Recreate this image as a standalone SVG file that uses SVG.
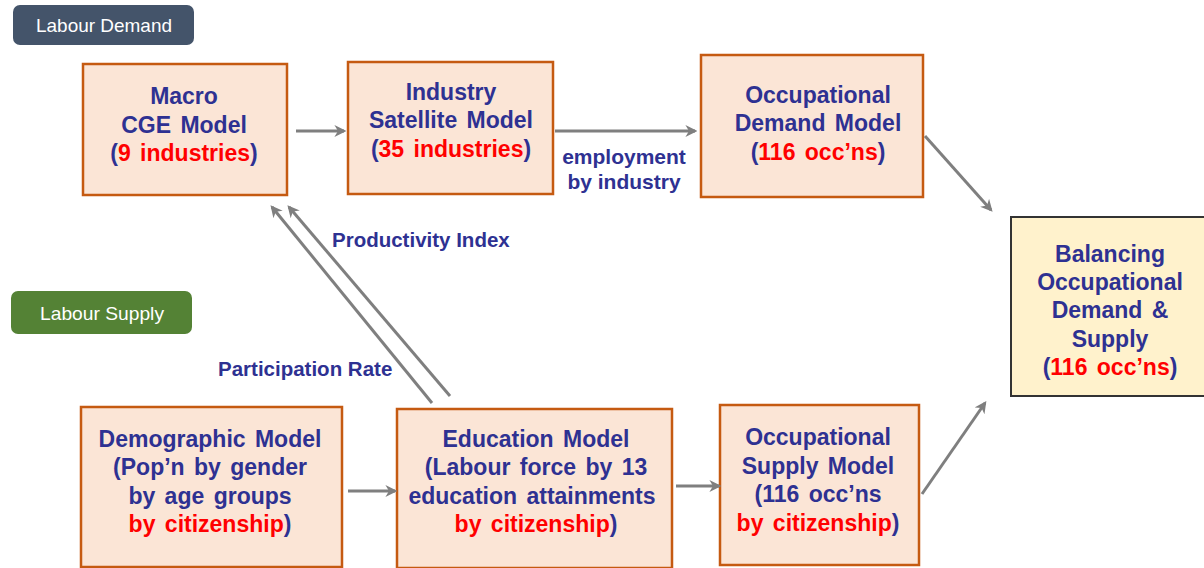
<svg xmlns="http://www.w3.org/2000/svg" width="1204" height="568" viewBox="0 0 1204 568">
<style>
.box{fill:#fbe5d6;stroke:#c55a11;stroke-width:2.5}
.bal{fill:#fff2cc;stroke:#333333;stroke-width:2}
.t{font-family:"Liberation Sans",Arial,sans-serif;font-weight:bold;font-size:23px;word-spacing:3px;fill:#2e3192;text-anchor:middle}
.r{fill:#ff0000}
.lbl{font-family:"Liberation Sans",Arial,sans-serif;font-weight:bold;fill:#2e3192}
.pill{font-family:"Liberation Sans",Arial,sans-serif;font-size:19px;fill:#ffffff;text-anchor:middle}
.c{stroke:#7f7f7f;stroke-width:3;fill:none;marker-end:url(#ah)}
</style>
<defs>
<marker id="ah" viewBox="0 0 10 10" refX="8" refY="5" markerWidth="4" markerHeight="4" orient="auto" markerUnits="strokeWidth">
<path d="M0,0 L10,5 L0,10 L3,5 Z" fill="#7f7f7f"/>
</marker>
</defs>
<g id="labour-demand">
<rect x="13" y="5" width="181" height="40" rx="7" fill="#44546a"/>
<text class="pill" x="104" y="32" textLength="136" lengthAdjust="spacingAndGlyphs">Labour Demand</text>
</g>
<g id="labour-supply">
<rect x="11" y="291" width="181" height="43" rx="7" fill="#548235"/>
<text class="pill" x="102" y="320" textLength="124" lengthAdjust="spacingAndGlyphs">Labour Supply</text>
</g>
<g id="macro">
<rect class="box" x="83" y="64" width="204" height="131"/>
<text class="t" x="184" y="104">Macro</text>
<text class="t" x="184" y="133">CGE Model</text>
<text class="t" x="184" y="161">(<tspan class="r">9 industries</tspan>)</text>
</g>
<g id="industry">
<rect class="box" x="348" y="62" width="205" height="132"/>
<text class="t" x="451" y="100">Industry</text>
<text class="t" x="451" y="128">Satellite Model</text>
<text class="t" x="451" y="157">(<tspan class="r">35 industries</tspan>)</text>
</g>
<g id="occ-demand">
<rect class="box" x="701" y="55" width="222" height="142"/>
<text class="t" x="818" y="103">Occupational</text>
<text class="t" x="818" y="131">Demand Model</text>
<text class="t" x="818" y="160">(<tspan class="r">116 occ’ns</tspan>)</text>
</g>
<g id="balancing">
<rect class="bal" x="1011" y="217" width="194" height="179"/>
<text class="t" x="1110" y="262">Balancing</text>
<text class="t" x="1110" y="290">Occupational</text>
<text class="t" x="1110" y="318">Demand &amp;</text>
<text class="t" x="1110" y="347">Supply</text>
<text class="t" x="1110" y="375">(<tspan class="r">116 occ’ns</tspan>)</text>
</g>
<g id="demographic">
<rect class="box" x="81" y="407" width="261" height="160"/>
<text class="t" x="210" y="447">Demographic Model</text>
<text class="t" x="210" y="475">(Pop’n by gender</text>
<text class="t" x="210" y="504">by age groups</text>
<text class="t" x="210" y="532"><tspan class="r">by citizenship</tspan>)</text>
</g>
<g id="education">
<rect class="box" x="397" y="409" width="275" height="159"/>
<text class="t" x="536" y="447">Education Model</text>
<text class="t" x="536" y="475">(Labour force by 13</text>
<text class="t" x="532" y="504">education attainments</text>
<text class="t" x="536" y="532"><tspan class="r">by citizenship</tspan>)</text>
</g>
<g id="occ-supply">
<rect class="box" x="720" y="405" width="199" height="160"/>
<text class="t" x="818" y="445">Occupational</text>
<text class="t" x="818" y="474">Supply Model</text>
<text class="t" x="818" y="502">(116 occ’ns</text>
<text class="t" x="818" y="531"><tspan class="r">by citizenship</tspan>)</text>
</g>
<g id="connectors">
<line class="c" x1="296" y1="131" x2="344" y2="131"/>
<line class="c" x1="555" y1="131" x2="695" y2="131"/>
<line class="c" x1="925" y1="136" x2="991" y2="210"/>
<line class="c" x1="922" y1="494" x2="985" y2="403"/>
<line class="c" x1="348" y1="491" x2="395" y2="491"/>
<line class="c" x1="676" y1="486" x2="719" y2="486"/>
<line class="c" x1="432" y1="403" x2="272" y2="207"/>
<line class="c" x1="450" y1="396" x2="289" y2="207"/>
<text class="lbl" x="624" y="164" font-size="21" text-anchor="middle">employment</text>
<text class="lbl" x="624" y="189" font-size="21" text-anchor="middle">by industry</text>
<text class="lbl" x="332" y="247" font-size="20.5">Productivity Index</text>
<text class="lbl" x="218" y="376" font-size="20.5">Participation Rate</text>
</g>
</svg>
